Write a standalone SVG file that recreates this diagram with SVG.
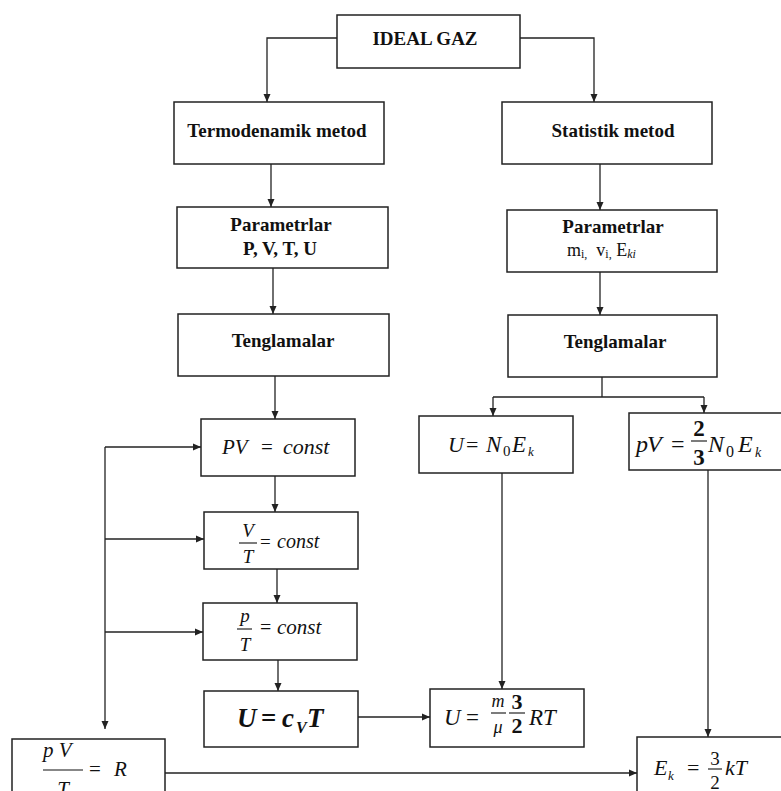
<svg xmlns="http://www.w3.org/2000/svg" width="781" height="791" viewBox="0 0 781 791">
<style>
.box{fill:#fff;stroke:#222;stroke-width:1.5}
.ln{fill:none;stroke:#222;stroke-width:1.3}
.arr{marker-end:url(#ah)}
.h{font-family:"Liberation Serif","Times New Roman",serif;font-weight:bold;font-size:19px;fill:#111;text-anchor:middle}
.m{font-family:"Liberation Serif","Times New Roman",serif;font-style:italic;fill:#111}
.r{font-family:"Liberation Serif","Times New Roman",serif;fill:#111}
.bar{stroke:#111;stroke-width:1.1}
</style>
<defs>
<marker id="ah" markerUnits="userSpaceOnUse" markerWidth="8" markerHeight="8" refX="8" refY="4" orient="auto">
<path d="M0,0.5 L8,4 L0,7.5 z" fill="#222"/>
</marker>
</defs>
<rect width="781" height="791" fill="#fff"/>
<g id="connectors">
<path class="ln arr" d="M337,38 H267 V102"/>
<path class="ln arr" d="M520,38 H594 V102"/>
<path class="ln arr" d="M271,164 V207"/>
<path class="ln arr" d="M600,164 V210"/>
<path class="ln arr" d="M273,268 V314"/>
<path class="ln arr" d="M600,272 V315"/>
<path class="ln arr" d="M275,376 V419"/>
<path class="ln arr" d="M275,476 V512"/>
<path class="ln arr" d="M277,569 V603"/>
<path class="ln arr" d="M278,660 V691"/>
<path class="ln arr" d="M105,447 V729"/>
<path class="ln arr" d="M105,447 H201"/>
<path class="ln arr" d="M105,539 H204"/>
<path class="ln arr" d="M105,632 H203"/>
<path class="ln arr" d="M358,717 H430"/>
<path class="ln arr" d="M165,773 H637"/>
<path class="ln" d="M602,377 V397 M493,397 H704"/>
<path class="ln arr" d="M493,397 V416"/>
<path class="ln arr" d="M704,397 V413"/>
<path class="ln arr" d="M502,473 V689"/>
<path class="ln arr" d="M708,470 V737"/>
</g>
<g id="ideal-gaz"><rect class="box" x="337" y="15" width="183" height="53"/><text class="h" x="425" y="45">IDEAL GAZ</text></g>
<g id="termodenamik"><rect class="box" x="174" y="102" width="210" height="62"/><text class="h" x="277" y="137">Termodenamik metod</text></g>
<g id="statistik"><rect class="box" x="502" y="102" width="210" height="62"/><text class="h" x="613" y="137">Statistik metod</text></g>
<g id="param-left"><rect class="box" x="177" y="207" width="211" height="61"/><text class="h" x="281" y="231">Parametrlar</text><text class="h" x="280" y="255">P, V, T, U</text></g>
<g id="param-right"><rect class="box" x="507" y="210" width="210" height="62"/><text class="h" x="613" y="233">Parametrlar</text>
<text class="r" x="567" y="256" font-size="18" xml:space="preserve">m<tspan font-size="12" dy="2">i,</tspan><tspan dy="-2">  v</tspan><tspan font-size="12" dy="2">i,</tspan><tspan dy="-2"> E</tspan><tspan font-size="12" font-style="italic" dy="2">ki</tspan></text></g>
<g id="teng-left"><rect class="box" x="178" y="314" width="211" height="62"/><text class="h" x="283" y="347">Tenglamalar</text></g>
<g id="teng-right"><rect class="box" x="508" y="315" width="209" height="62"/><text class="h" x="615" y="348">Tenglamalar</text></g>
<g id="pv-const"><rect class="box" x="201" y="419" width="154" height="57"/>
<text class="m" font-size="21" x="222" y="454">PV</text><text class="r" font-size="21" x="261" y="454">=</text><text class="m" font-size="22" x="283" y="454">const</text></g>
<g id="vt-const"><rect class="box" x="204" y="512" width="154" height="57"/>
<text class="m" font-size="19" x="248" y="537" text-anchor="middle">V</text><line class="bar" x1="239" y1="543" x2="257" y2="543"/><text class="m" font-size="19" x="248" y="563" text-anchor="middle">T</text>
<text class="r" font-size="19" x="260" y="548">=</text><text class="m" font-size="20" x="277" y="548">const</text></g>
<g id="pt-const"><rect class="box" x="203" y="603" width="154" height="57"/>
<text class="m" font-size="19" x="245" y="622" text-anchor="middle">p</text><line class="bar" x1="237" y1="629" x2="252" y2="629"/><text class="m" font-size="19" x="245" y="651" text-anchor="middle">T</text>
<text class="r" font-size="20" x="260" y="634">=</text><text class="m" font-size="21" x="277" y="634">const</text></g>
<g id="u-cvt"><rect class="box" x="204" y="691" width="154" height="56"/>
<text class="m" font-weight="bold" font-size="27" x="237" y="727">U</text><text class="r" font-weight="bold" font-size="27" x="261" y="727">=</text><text class="m" font-weight="bold" font-size="27" x="282" y="727">c</text><text class="m" font-weight="bold" font-size="16" x="296" y="733">V</text><text class="m" font-weight="bold" font-size="27" x="307" y="727">T</text></g>
<g id="pvt-r"><rect class="box" x="12" y="739" width="153" height="70"/>
<text class="m" font-size="21" x="43" y="757" xml:space="preserve">p V</text><line class="bar" x1="43" y1="770" x2="83" y2="770"/><text class="m" font-size="21" x="63" y="796" text-anchor="middle">T</text>
<text class="r" font-size="21" x="89" y="776">=</text><text class="m" font-size="21" x="114" y="776">R</text></g>
<g id="u-n0ek"><rect class="box" x="419" y="416" width="154" height="57"/>
<text class="m" font-size="22" x="448" y="452">U</text><text class="r" font-size="22" x="466" y="452">=</text><text class="m" font-size="23" x="486" y="452">N</text><text class="r" font-size="15" x="503" y="456">0</text><text class="m" font-size="23" x="512" y="452">E</text><text class="m" font-size="13" x="528" y="456">k</text></g>
<g id="pv-n0ek"><rect class="box" x="629" y="413" width="170" height="57"/>
<text class="m" font-size="24" x="636" y="452">p</text><text class="m" font-size="24" x="647" y="452">V</text><text class="r" font-size="24" x="671" y="452">=</text>
<text class="r" font-weight="bold" font-size="23" x="699" y="436" text-anchor="middle">2</text><line class="bar" x1="691" y1="441" x2="707" y2="441"/><text class="r" font-weight="bold" font-size="23" x="699" y="465" text-anchor="middle">3</text>
<text class="m" font-size="24" x="708" y="452">N</text><text class="r" font-size="16" x="726" y="457">0</text><text class="m" font-size="24" x="738" y="452">E</text><text class="m" font-size="14" x="755" y="457">k</text></g>
<g id="u-murt"><rect class="box" x="430" y="689" width="154" height="58"/>
<text class="m" font-size="23" x="444" y="725">U</text><text class="r" font-size="23" x="466" y="725">=</text>
<text class="m" font-size="18" x="498" y="707" text-anchor="middle">m</text><line class="bar" x1="491" y1="713" x2="506" y2="713"/><text class="m" font-size="18" x="498" y="733" text-anchor="middle">μ</text>
<text class="r" font-weight="bold" font-size="22" x="517" y="709" text-anchor="middle">3</text><line class="bar" x1="509" y1="713" x2="525" y2="713"/><text class="r" font-weight="bold" font-size="22" x="517" y="733" text-anchor="middle">2</text>
<text class="m" font-size="23" x="529" y="725">RT</text></g>
<g id="ek-kt"><rect class="box" x="637" y="737" width="160" height="70"/>
<text class="m" font-size="22" x="654" y="775">E</text><text class="m" font-size="13" x="668" y="780">k</text><text class="r" font-size="22" x="687" y="775">=</text>
<text class="r" font-size="19" x="715" y="765" text-anchor="middle">3</text><line class="bar" x1="708" y1="769" x2="722" y2="769"/><text class="r" font-size="19" x="715" y="789" text-anchor="middle">2</text>
<text class="m" font-size="22" x="725" y="775">kT</text></g>
</svg>
